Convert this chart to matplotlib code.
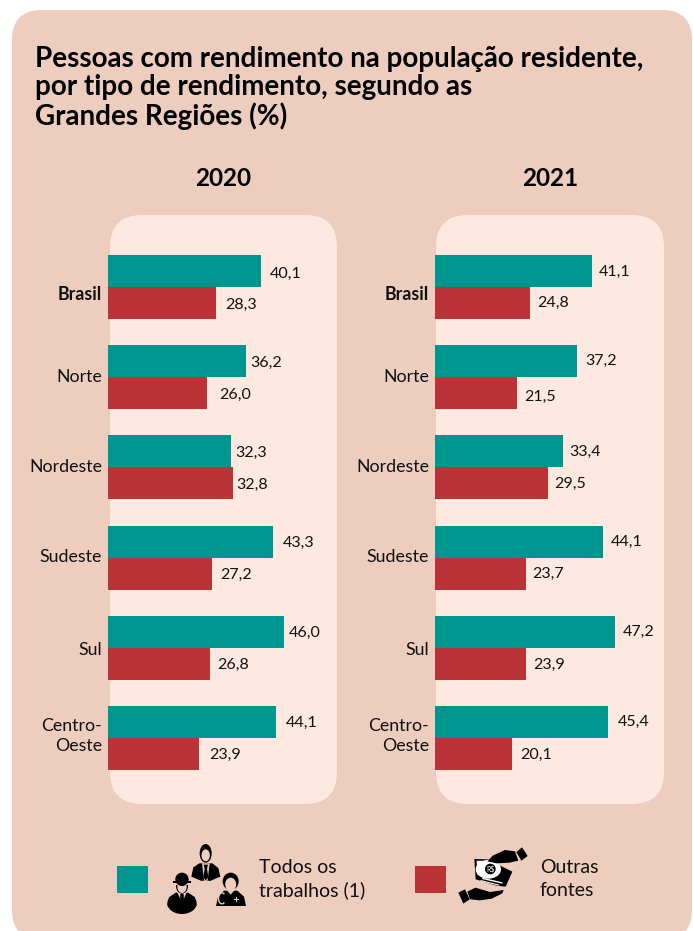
import matplotlib
matplotlib.use("Agg")
import matplotlib.pyplot as plt
from matplotlib.patches import Arc, Ellipse, FancyBboxPatch, Polygon, Rectangle

FIG_W = 693
FIG_H = 931

REGIONS = ["Brasil", "Norte", "Nordeste", "Sudeste", "Sul", "Centro-\nOeste"]
YEARS = ["2020", "2021"]
WORK_2020 = [40.1, 36.2, 32.3, 43.3, 46.0, 44.1]
OTHER_2020 = [28.3, 26.0, 32.8, 27.2, 26.8, 23.9]
WORK_2021 = [41.1, 37.2, 33.4, 44.1, 47.2, 45.4]
OTHER_2021 = [24.8, 21.5, 29.5, 23.7, 23.9, 20.1]

# Hand placement of the value labels, in pixels from the bar end / bar centre
WORK_PAD_2020 = [9, 4, 4, 9, 5, 9]
OTHER_PAD_2020 = [9, 12, 3, 8, 7, 10]
WORK_PAD_2021 = [7, 8, 7, 7, 7, 9]
OTHER_PAD_2021 = [7, 7, 7, 7, 7, 8]
WORK_DROP_2020 = [3, 2, 1, 1, 1, 1]
OTHER_DROP_2020 = [2, 2, 1, 1, 1, 1]
WORK_DROP_2021 = [1, 0, 0, 0, 0, 0]
OTHER_DROP_2021 = [0, 4, 0, 0, 1, 1]
# Region names do not sit exactly on the row centres
NAME_DROP = [8, 0, 0, -1, 2, -2]

BG = "#ECCDBE"
PANEL = "#FDE9E0"
TEAL = "#009690"
RED = "#BA3336"
INK = "#111111"

plt.rcParams["font.family"] = ["Lato", "DejaVu Sans"]

PX_PER_UNIT = 3.82
ROW_STEP = 90.2
BAR_H = 32 / ROW_STEP


def rounded(ax, x0, y0, x1, y1, r, color, z=1):
    ax.add_patch(FancyBboxPatch((x0 + r, y0 + r), x1 - x0 - 2 * r, y1 - y0 - 2 * r,
                                boxstyle=f"round,pad={r},rounding_size={r}",
                                fc=color, ec="none", zorder=z))


def shape(ax, points, origin, color="black", z=3):
    """ Polygon from icon coordinates (3 units per pixel, relative to origin) """
    ox, oy = origin
    ax.add_patch(Polygon([(ox + x / 3, oy + y / 3) for x, y in points], fc=color, ec="none", zorder=z))


def blob(ax, cx, cy, w, h, origin, color="black", z=3):
    ox, oy = origin
    ax.add_patch(Ellipse((ox + cx / 3, oy + cy / 3), w / 3, h / 3, fc=color, ec="none", zorder=z))


def draw_people(ax):
    o = (160, 840)
    # executive, top centre
    blob(ax, 137, 40, 36, 56, o)
    blob(ax, 137, 46, 25, 36, o, BG, 4)
    shape(ax, [(118, 70), (100, 82), (94, 110), (125, 123), (137, 120), (150, 123), (181, 110), (175, 84), (157, 70)], o)
    shape(ax, [(126, 70), (149, 70), (143, 120), (132, 120)], o, BG, 4)
    shape(ax, [(131, 74), (144, 74), (141, 86), (145, 112), (137, 121), (130, 112), (134, 86)], o, "black", 5)
    # worker with helmet
    blob(ax, 66, 190, 88, 64, o)
    shape(ax, [(22, 198), (110, 198), (105, 172), (85, 158), (47, 158), (27, 172)], o)
    shape(ax, [(50, 152), (82, 152), (70, 180), (62, 180)], o, BG, 4)
    shape(ax, [(61, 162), (71, 162), (72, 185), (66, 190), (60, 185)], o, "black", 5)
    blob(ax, 66, 138, 36, 46, o, "black", 4)
    blob(ax, 66, 140, 28, 38, o, BG, 4)
    blob(ax, 66, 118, 40, 40, o, "black", 5)
    shape(ax, [(40, 123), (92, 123), (92, 129), (40, 129)], o, "black", 5)
    shape(ax, [(46, 129), (86, 129), (86, 135), (46, 135)], o, BG, 4)
    # medic with stethoscope
    shape(ax, [(168, 198), (258, 198), (252, 170), (232, 152), (192, 152), (174, 170)], o)
    blob(ax, 212, 124, 48, 52, o)
    blob(ax, 212, 133, 33, 40, o, BG, 4)
    shape(ax, [(198, 148), (226, 148), (212, 164)], o, BG, 4)
    ax.add_patch(Arc((160 + 186 / 3, 840 + 175 / 3), 7, 11, theta1=60, theta2=300, ec=BG, lw=1, zorder=5))
    shape(ax, [(222, 177), (227, 177), (227, 172), (231, 172), (231, 177), (236, 177), (236, 181), (231, 181),
               (231, 186), (227, 186), (227, 181), (222, 181)], o, BG, 5)


def draw_money(ax):
    o = (450, 840)
    # banknote stack
    shape(ax, [(73, 57), (112, 58), (187, 95), (167, 140), (140, 137), (77, 118)], o)
    blob(ax, 115, 88, 76, 56, o, "white", 4)
    shape(ax, [(80, 62), (130, 63), (130, 110), (82, 104)], o, "white", 4)
    shape(ax, [(97, 113), (158, 127), (157, 131), (96, 117)], o, "white", 4)
    shape(ax, [(92, 120), (148, 134), (147, 137), (91, 123)], o, "white", 4)
    blob(ax, 121, 87, 32, 32, o, "black", 5)
    ax.text(450 + 121 / 3, 840 + 87 / 3, "R$", fontsize=5, color="white", ha="center", va="center", zorder=6)
    # upper hand and cuff
    shape(ax, [(128, 47), (165, 30), (195, 34), (205, 62), (178, 68), (140, 70), (112, 64)], o, "black", 6)
    shape(ax, [(199, 36), (216, 22), (233, 48), (214, 62)], o, "black", 6)
    # lower hand and cuff
    shape(ax, [(52, 155), (76, 143), (100, 150), (120, 156), (161, 150), (157, 160), (125, 176), (90, 181), (60, 178)], o)
    shape(ax, [(25, 158), (45, 148), (59, 178), (40, 191)], o)


fig = plt.figure(figsize=(FIG_W / 100, FIG_H / 100), dpi=100, facecolor="white")

# Full-page layer in pixel units for the card, panels, titles and legend
page = fig.add_axes([0, 0, 1, 1])
page.set_xlim(0, FIG_W)
page.set_ylim(FIG_H, 0)
page.axis("off")

rounded(page, 12, 10, 692, 940, 30, BG)
rounded(page, 110, 215, 337, 804, 32, PANEL)
rounded(page, 436, 215, 664, 804, 32, PANEL)

page.text(35, 88, "Pessoas com rendimento na população residente,\npor tipo de rendimento, segundo as\nGrandes Regiões (%)",
          fontsize=19.95, fontweight="bold", color="black", va="center", ha="left", linespacing=1.1)

SERIES = [
    (WORK_2020, OTHER_2020, WORK_PAD_2020, OTHER_PAD_2020, WORK_DROP_2020, OTHER_DROP_2020, 108, 223),
    (WORK_2021, OTHER_2021, WORK_PAD_2021, OTHER_PAD_2021, WORK_DROP_2021, OTHER_DROP_2021, 435, 550),
]

for year, (work, other, work_pad, other_pad, work_drop, other_drop, left, year_x) in zip(YEARS, SERIES):
    page.text(year_x, 178, year, fontsize=17.5, fontweight="bold", color="black", ha="center", va="center")

    # Transparent axes over the panel: row 0 centred at y=287, row 5 at y=738
    ax = fig.add_axes([left / FIG_W, 1 - 804 / FIG_H, 240 / FIG_W, 589 / FIG_H])
    ax.patch.set_alpha(0)
    ax.set_xlim(0, 240 / PX_PER_UNIT)
    ax.set_ylim((804 - 287) / ROW_STEP, (215 - 287) / ROW_STEP)
    ax.axis("off")

    rows = range(len(REGIONS))
    ax.barh([r - BAR_H / 2 for r in rows], work, height=BAR_H, color=TEAL)
    ax.barh([r + BAR_H / 2 for r in rows], other, height=BAR_H, color=RED)

    for r in rows:
        ax.annotate(REGIONS[r], (0, r), xytext=(-6, -NAME_DROP[r]), textcoords="offset pixels",
                    fontsize=12.8, color=INK, ha="right", va="center", linespacing=1.25,
                    fontweight="bold" if r == 0 else "normal", annotation_clip=False)
        ax.annotate(f"{work[r]:.1f}".replace(".", ","), (work[r], r - BAR_H / 2), xytext=(work_pad[r], -work_drop[r]),
                    textcoords="offset pixels", fontsize=11.5, color=INK, va="center")
        ax.annotate(f"{other[r]:.1f}".replace(".", ","), (other[r], r + BAR_H / 2), xytext=(other_pad[r], -other_drop[r]),
                    textcoords="offset pixels", fontsize=11.5, color=INK, va="center")

# Legend
page.add_patch(Rectangle((117, 866), 31, 27, fc=TEAL, ec="none"))
page.add_patch(Rectangle((415, 866), 31, 27, fc=RED, ec="none"))
draw_people(page)
draw_money(page)
page.text(259, 879, "Todos os\ntrabalhos (1)", fontsize=14, color=INK, va="center", ha="left", linespacing=1.4)
page.text(540, 879, "Outras\nfontes", fontsize=14, color=INK, va="center", ha="left", linespacing=1.4)

fig.savefig("out.png", dpi=100, facecolor="white")
